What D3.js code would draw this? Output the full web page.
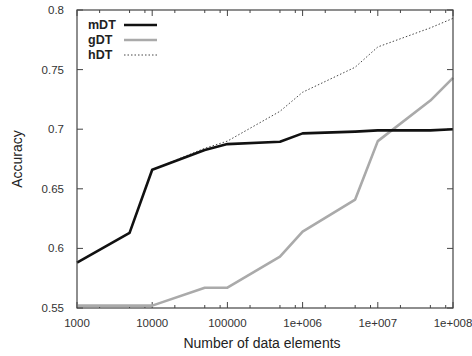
<!DOCTYPE html>
<html lang="en">
<head>
    <meta charset="UTF-8">
    <title>Accuracy vs data elements</title>
    <script src="https://d3js.org/d3.v7.min.js"></script>
    <style>
        body { margin: 0; background: #fff; }
        text { font-family: "Liberation Sans", Arial, sans-serif; }
    </style>
</head>
<body>
<div id="my_graph"></div>
<script>
    // data
    var sizes = [1000, 5000, 10000, 50000, 100000, 500000, 1e6, 5e6, 1e7, 5e7, 1e8];
    var mDT = [0.588, 0.613, 0.666, 0.6825, 0.6875, 0.6895, 0.6965, 0.698, 0.699, 0.699, 0.700];
    var gDT = [0.552, 0.552, 0.552, 0.567, 0.567, 0.593, 0.614, 0.641, 0.690, 0.724, 0.743];
    var hDT = [0.588, 0.613, 0.666, 0.684, 0.690, 0.715, 0.731, 0.752, 0.769, 0.785, 0.793];
    var xTicks = [1000, 10000, 100000, 1e6, 1e7, 1e8];
    var xTickLabels = ["1000", "10000", "100000", "1e+006", "1e+007", "1e+008"];
    var yTicks = [0.55, 0.6, 0.65, 0.7, 0.75, 0.8];
    var seriesNames = ["mDT", "gDT", "hDT"];

    var W = 472, H = 356;
    var margin = {top: 10, right: 19, bottom: 48, left: 77};
    var width = W - margin.left - margin.right,
        height = H - margin.top - margin.bottom;

    var svg = d3.select("#my_graph")
        .append("svg")
        .attr("width", W)
        .attr("height", H);
    var g = svg.append("g")
        .attr("transform", "translate(" + margin.left + "," + margin.top + ")");

    var x = d3.scaleLog().domain([1000, 1e8]).range([0, width]);
    var y = d3.scaleLinear().domain([0.55, 0.8]).range([height, 0]);

    // minor ticks at 2, 5, 8 of each decade
    var minor = [];
    xTicks.slice(0, -1).forEach(function(d) {
        [2, 5, 8].forEach(function(m) { minor.push(d * m); });
    });

    var frameColor = "#444";

    // x ticks bottom and top
    [0, height].forEach(function(edge) {
        var dir = edge === 0 ? 1 : -1;
        g.selectAll(null).data(xTicks).enter().append("line")
            .attr("x1", function(d) { return x(d); })
            .attr("x2", function(d) { return x(d); })
            .attr("y1", edge).attr("y2", edge + dir * 6)
            .attr("stroke", frameColor).attr("stroke-width", 1);
        g.selectAll(null).data(minor).enter().append("line")
            .attr("x1", function(d) { return x(d); })
            .attr("x2", function(d) { return x(d); })
            .attr("y1", edge).attr("y2", edge + dir * 3)
            .attr("stroke", frameColor).attr("stroke-width", 1);
    });
    // y ticks left and right
    [0, width].forEach(function(edge) {
        var dir = edge === 0 ? 1 : -1;
        g.selectAll(null).data(yTicks).enter().append("line")
            .attr("y1", function(d) { return y(d); })
            .attr("y2", function(d) { return y(d); })
            .attr("x1", edge).attr("x2", edge + dir * 6)
            .attr("stroke", frameColor).attr("stroke-width", 1);
    });

    // tick labels
    g.selectAll(null).data(xTicks).enter().append("text")
        .attr("x", function(d) { return x(d); })
        .attr("y", height + 19)
        .attr("text-anchor", "middle")
        .attr("font-size", 11.5)
        .attr("fill", "#333")
        .text(function(d, i) { return xTickLabels[i]; });
    g.selectAll(null).data(yTicks).enter().append("text")
        .attr("x", -13)
        .attr("y", function(d) { return y(d) + 4; })
        .attr("text-anchor", "end")
        .attr("font-size", 11.5)
        .attr("fill", "#333")
        .text(function(d) { return d3.format("")(d); });

    // axis titles
    svg.append("text")
        .attr("x", margin.left + width / 2 - 3)
        .attr("y", 348)
        .attr("text-anchor", "middle")
        .attr("font-size", 14)
        .attr("fill", "#222")
        .text("Number of data elements");
    svg.append("text")
        .attr("transform", "translate(22," + (margin.top + height / 2) + ") rotate(-90)")
        .attr("text-anchor", "middle")
        .attr("font-size", 14)
        .attr("fill", "#222")
        .text("Accuracy");

    // lines
    var line = d3.line()
        .x(function(d) { return x(d[0]); })
        .y(function(d) { return y(d[1]); });
    var styles = {
        mDT: {stroke: "#111", width: 2.6, dash: null},
        gDT: {stroke: "#aaa", width: 2.6, dash: null},
        hDT: {stroke: "#333", width: 0.9, dash: "1.5,2"}
    };
    var values = {mDT: mDT, gDT: gDT, hDT: hDT};

    ["hDT", "gDT", "mDT"].forEach(function(name) {
        var pts = sizes.map(function(s, i) { return [s, values[name][i]]; });
        g.append("path")
            .datum(pts)
            .attr("d", line)
            .attr("fill", "none")
            .attr("stroke", styles[name].stroke)
            .attr("stroke-width", styles[name].width)
            .attr("stroke-dasharray", styles[name].dash)
            .attr("stroke-linejoin", "round");
    });

    // frame
    g.append("rect")
        .attr("width", width).attr("height", height)
        .attr("fill", "none")
        .attr("stroke", frameColor)
        .attr("stroke-width", 1.2);

    // legend
    var legend = g.append("g").attr("transform", "translate(11,15)");
    seriesNames.forEach(function(name, i) {
        legend.append("text")
            .attr("x", 0).attr("y", i * 15 + 4)
            .attr("font-size", 12.5)
            .attr("font-weight", "bold")
            .attr("fill", "#222")
            .text(name);
        legend.append("line")
            .attr("x1", 36).attr("x2", 69)
            .attr("y1", i * 15).attr("y2", i * 15)
            .attr("stroke", styles[name].stroke)
            .attr("stroke-width", styles[name].width)
            .attr("stroke-dasharray", styles[name].dash);
    });
</script>
</body>
</html>
